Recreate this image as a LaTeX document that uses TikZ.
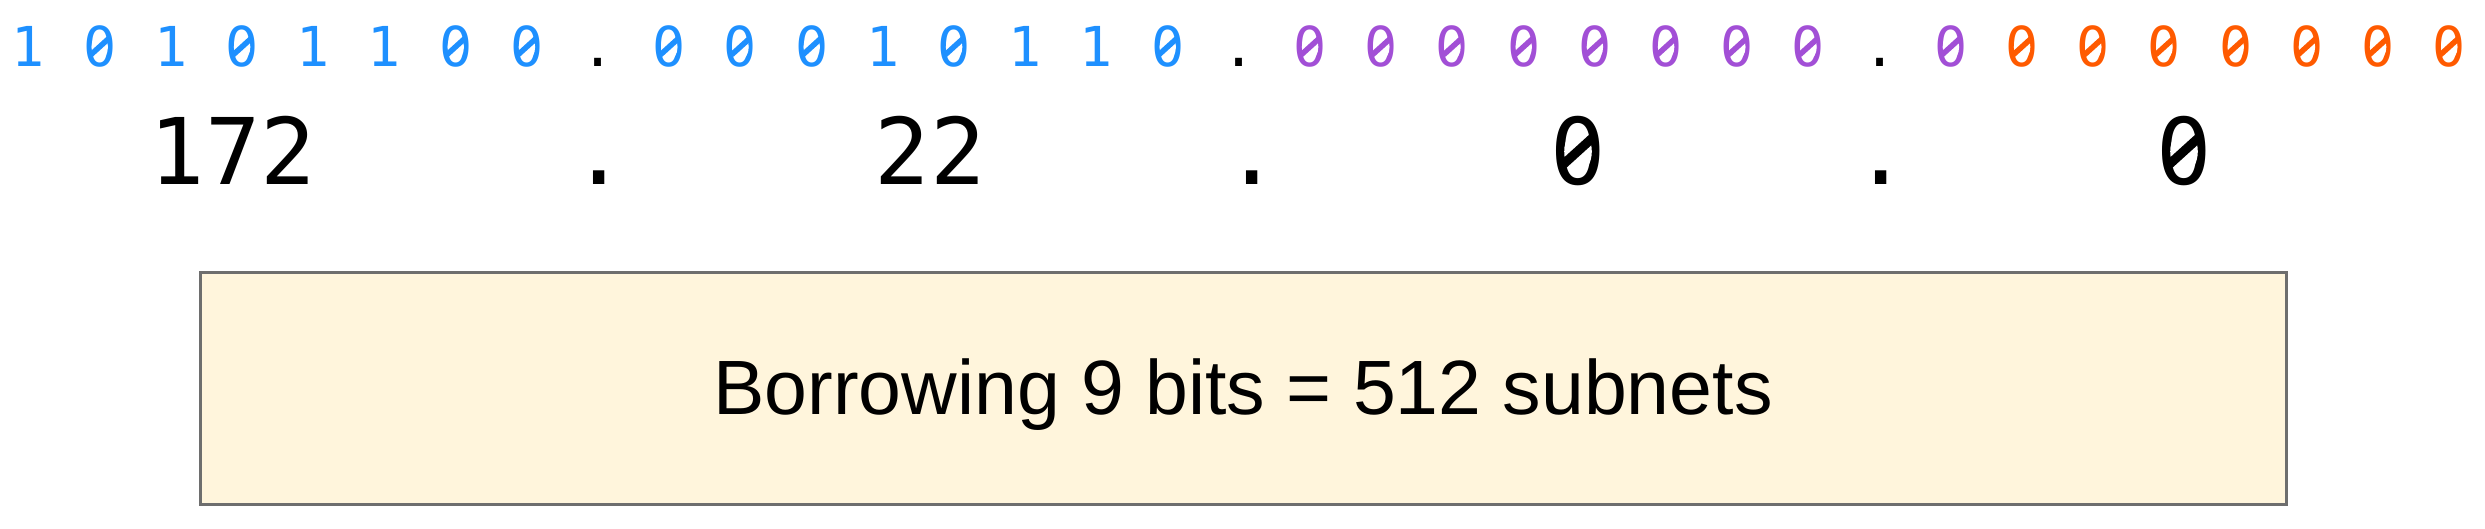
\documentclass[tikz,border=0pt]{standalone}
\usepackage{fontspec}
\setmainfont{Liberation Sans}
\setmonofont{DejaVu Sans Mono}
\definecolor{bblue}{HTML}{1E90FF}
\definecolor{bpurple}{HTML}{A24FD6}
\definecolor{borange}{HTML}{FF5A00}
\definecolor{boxfill}{HTML}{FFF5DC}
\definecolor{boxline}{HTML}{6E6E6E}
% slashed zero: #1 node, #2 em size in px, #3 colour
\newcommand\zslash[3]{%
  \fill[white,shift={(#1.center)}] (0,0) ellipse [x radius={0.075*#2 pt}, y radius={0.115*#2 pt}];
  \draw[#3,line width={0.05*#2 pt},shift={(#1.center)}] (-0.16*#2,0.14*#2) -- (0.16*#2,-0.15*#2);}
\begin{document}
\begin{tikzpicture}[x=0.5pt,y=-0.5pt,
  bit/.style={inner sep=0pt,anchor=base,font=\ttfamily\fontsize{27.5pt}{30pt}\selectfont},
  dec/.style={inner sep=0pt,anchor=base,font=\ttfamily\fontsize{46pt}{50pt}\selectfont},
  notebox/.style={rectangle,draw=boxline,fill=boxfill,line width=1.5pt,minimum width=1043pt,minimum height=115.5pt,inner sep=0pt},
  notetext/.style={inner sep=0pt,anchor=base,font=\fontsize{38.5pt}{42pt}\selectfont}]
\useasboundingbox (0,0) rectangle (2485,529);
\foreach \c/\col [count=\i from 0] in {1/bblue,0/bblue,1/bblue,0/bblue,1/bblue,1/bblue,0/bblue,0/bblue,./black,0/bblue,0/bblue,0/bblue,1/bblue,0/bblue,1/bblue,1/bblue,0/bblue,./black,0/bpurple,0/bpurple,0/bpurple,0/bpurple,0/bpurple,0/bpurple,0/bpurple,0/bpurple,./black,0/bpurple,0/borange,0/borange,0/borange,0/borange,0/borange,0/borange,0/borange}{
  \node[bit,text=\col] (b\i) at ({28.5+\i*71.2},67) {\c};
  \if0\c \zslash{b\i}{55}{\col}\fi
}
\node[dec] (d1) at (233,185) {172};
\node[dec] (p1) at (599,185) {.};
\node[dec] (d2) at (930,185) {22};
\node[dec] (p2) at (1252,185) {.};
\node[dec] (d3) at (1578,185) {0};
\zslash{d3}{92}{black}
\node[dec] (p3) at (1881,185) {.};
\node[dec] (d4) at (2184,185) {0};
\zslash{d4}{92}{black}
\node[notebox] (box) at (1243,388.5) {};
\node[notetext] (label) at (1243,415) {Borrowing 9 bits = 512 subnets};
\end{tikzpicture}
\end{document}
